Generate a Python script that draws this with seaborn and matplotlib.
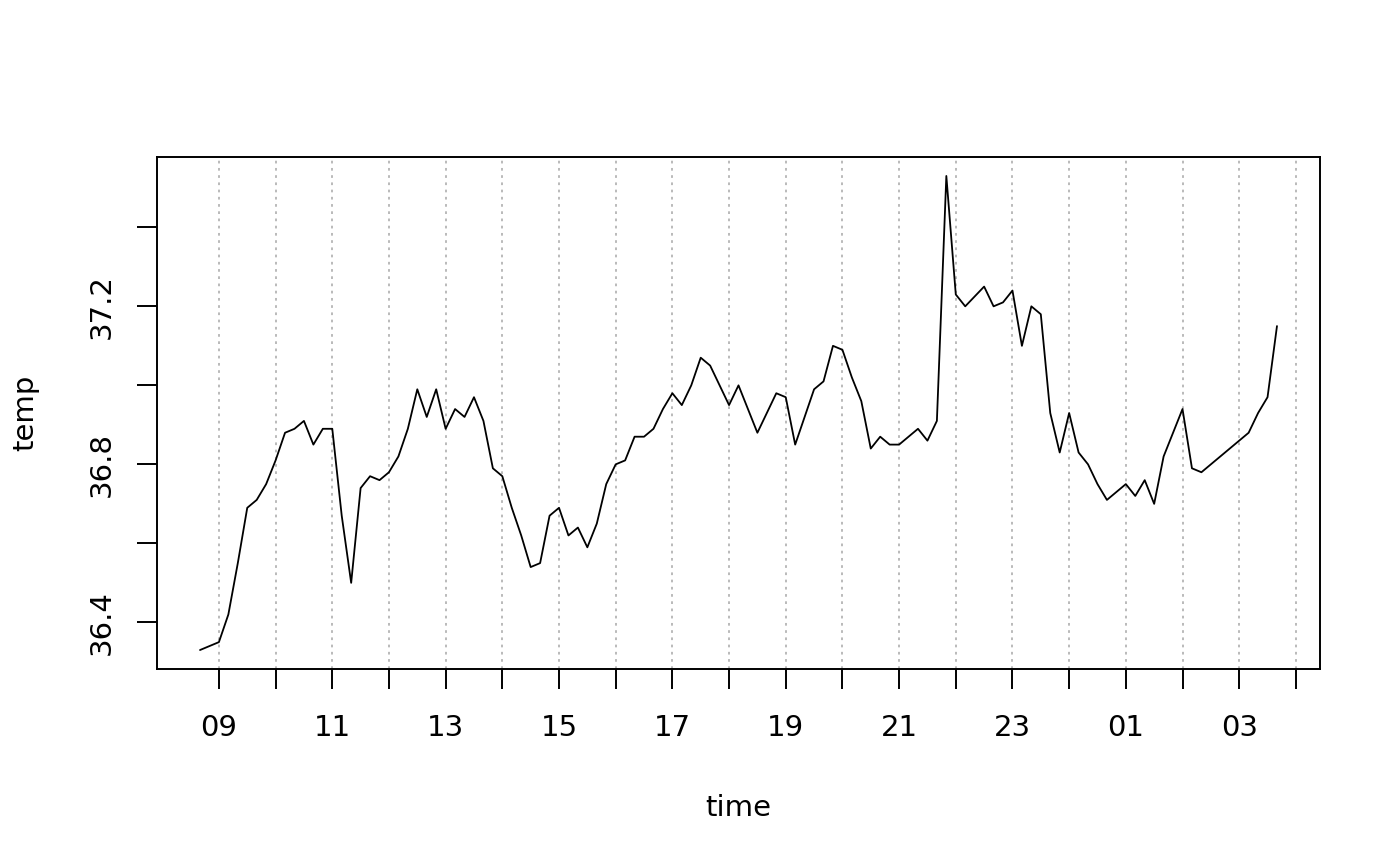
import seaborn as sns
import pandas as pd
import matplotlib
matplotlib.use("Agg")
import matplotlib.pyplot as plt
import matplotlib.dates as mdates
import numpy as np

# beaver body temperature readings (day of year, hhmm, temp)
day = [346] * 91 + [347] * 23
hhmm = [840, 850, 900, 910, 920, 930, 940, 950, 1000, 1010, 1020, 1030, 1040, 1050,
        1100, 1110, 1120, 1130, 1140, 1150, 1200, 1210, 1220, 1230, 1240, 1250,
        1300, 1310, 1320, 1330, 1340, 1350, 1400, 1410, 1420, 1430, 1440, 1450,
        1500, 1510, 1520, 1530, 1540, 1550, 1600, 1610, 1620, 1630, 1640, 1650,
        1700, 1710, 1720, 1730, 1740, 1750, 1800, 1810, 1820, 1830, 1840, 1850,
        1900, 1910, 1920, 1930, 1940, 1950, 2000, 2010, 2020, 2030, 2040, 2050,
        2100, 2110, 2120, 2130, 2140, 2150, 2200, 2210, 2230, 2240, 2250,
        2300, 2310, 2320, 2330, 2340, 2350,
        0, 10, 20, 30, 40, 50, 100, 110, 120, 130, 140, 150,
        200, 210, 220, 230, 240, 250, 300, 310, 320, 330, 340]
temp = [36.33, 36.34, 36.35, 36.42, 36.55, 36.69, 36.71, 36.75, 36.81, 36.88, 36.89,
        36.91, 36.85, 36.89, 36.89, 36.67, 36.50, 36.74, 36.77, 36.76, 36.78, 36.82,
        36.89, 36.99, 36.92, 36.99, 36.89, 36.94, 36.92, 36.97, 36.91, 36.79, 36.77,
        36.69, 36.62, 36.54, 36.55, 36.67, 36.69, 36.62, 36.64, 36.59, 36.65, 36.75,
        36.80, 36.81, 36.87, 36.87, 36.89, 36.94, 36.98, 36.95, 37.00, 37.07, 37.05,
        37.00, 36.95, 37.00, 36.94, 36.88, 36.93, 36.98, 36.97, 36.85, 36.92, 36.99,
        37.01, 37.10, 37.09, 37.02, 36.96, 36.84, 36.87, 36.85, 36.85, 36.87, 36.89,
        36.86, 36.91, 37.53, 37.23, 37.20, 37.25, 37.20, 37.21, 37.24, 37.10, 37.20,
        37.18, 36.93, 36.83,
        36.93, 36.83, 36.80, 36.75, 36.71, 36.73, 36.75, 36.72, 36.76, 36.70, 36.82,
        36.88, 36.94, 36.79, 36.78, 36.80, 36.82, 36.84, 36.86, 36.88, 36.93, 36.97,
        37.15]

base = pd.Timestamp("1990-01-01")
time = [base + pd.Timedelta(days=d - 1, hours=t // 100, minutes=t % 100)
        for d, t in zip(day, hhmm)]
df = pd.DataFrame({"time": time, "temp": temp})

sns.set_style("ticks")
plt.rcParams["font.family"] = ["DejaVu Sans"]
plt.rcParams["text.color"] = "black"
plt.rcParams["axes.labelcolor"] = "black"
plt.rcParams["xtick.color"] = "black"
plt.rcParams["ytick.color"] = "black"

fig = plt.figure(figsize=(14, 8.66), dpi=100)
ax = fig.add_axes([0.1121, 0.2275, 0.8308, 0.5912])

sns.lineplot(data=df, x="time", y="temp", color="black", linewidth=1.3, ax=ax)

# R-style 4% padding
t0, t1 = df["time"].min(), df["time"].max()
span = t1 - t0
ax.set_xlim(t0 - span * 0.04, t1 + span * 0.04)
yr = max(temp) - min(temp)
ax.set_ylim(min(temp) - 0.04 * yr, max(temp) + 0.04 * yr)

hours = pd.date_range(base + pd.Timedelta(days=345, hours=9),
                      base + pd.Timedelta(days=346, hours=4), freq="h")
ax.set_xticks(mdates.date2num(hours))
ax.set_xticklabels([h.strftime("%H") if i % 2 == 0 else "" for i, h in enumerate(hours)])
for h in hours:
    ax.axvline(h, color="#B4B4B4", linestyle=(0, (1.5, 2.5)), linewidth=1.3, zorder=0)

yt = [36.4, 36.6, 36.8, 37.0, 37.2, 37.4]
ax.set_yticks(yt)
ax.set_yticklabels(["36.4", "", "36.8", "", "37.2", ""], rotation=90, va="center")

for s in ax.spines.values():
    s.set_visible(True)
    s.set_linewidth(1.4)
    s.set_color("black")
ax.tick_params(axis="both", length=14.5, width=1.4, color="black",
               labelcolor="black", labelsize=21)
ax.tick_params(axis="x", pad=18)
ax.tick_params(axis="y", pad=15)

ax.set_xlabel("time", fontsize=21, labelpad=37)
ax.set_ylabel("temp", fontsize=21, labelpad=35)

fig.savefig("out.png", dpi=100)
